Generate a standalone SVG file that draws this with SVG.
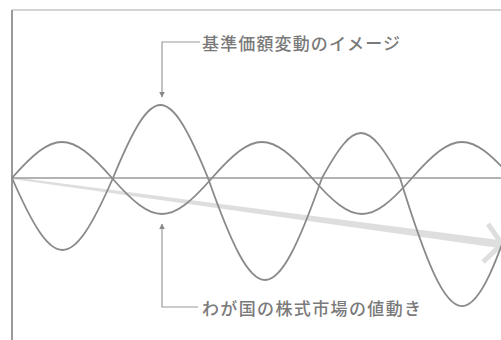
<svg xmlns="http://www.w3.org/2000/svg" width="501" height="340" viewBox="0 0 501 340">
<style>
.wave{fill:none;stroke:#8a8a8a;stroke-width:1.8;stroke-linecap:round}
.lead{fill:none;stroke:#9a9a9a;stroke-width:1.2}
.lbl{font-family:"Noto Sans CJK JP","Noto Sans CJK SC",sans-serif;font-size:17px;fill:#7a7a7a;font-weight:500}
</style>
<defs>
<marker id="ah" viewBox="0 0 10 10" refX="9" refY="5" markerWidth="6" markerHeight="6" orient="auto" markerUnits="userSpaceOnUse">
<path d="M0,0 L10,5 L0,10 z" fill="#8a8a8a"/>
</marker>
</defs>
<rect width="501" height="340" fill="#ffffff"/>
<g id="frame">
<line x1="12" y1="10" x2="501" y2="10" stroke="#c4c4c4" stroke-width="1.5"/>
<line x1="12" y1="10" x2="12" y2="340" stroke="#9a9a9a" stroke-width="2"/>
</g>
<g id="trend">
<polygon points="12,177 499,240 499,248 12,179" fill="#dedede"/>
<polyline points="488,224 502,244 483,262" fill="none" stroke="#dedede" stroke-width="5" stroke-linejoin="miter"/>
</g>
<g id="axis">
<line x1="12" y1="178" x2="501" y2="178" stroke="#9a9a9a" stroke-width="1.5"/>
</g>
<g id="market-wave">
<path class="wave" d="M12,178 C54,130 70,130 112,178 S170,226 212,178 S270,130 312,178 S370,226 412,178 S470,130 512,178"/>
</g>
<g id="nav-wave">
<path class="wave" d="M12,178 C54,274 71,274 113,178 C153,80.7 168,80.7 208,178 C256,314 274,314 322,178 C355,118 367,118 400,178 C452.6,348.7 471.4,348.7 524,178"/>
</g>
<g id="connectors">
<path class="lead" d="M200,42 H162 V97" marker-end="url(#ah)"/>
<path class="lead" d="M198,307 H162 V224" marker-end="url(#ah)"/>
</g>
<g id="label-nav">
<text class="lbl" x="202" y="50" textLength="198" lengthAdjust="spacing">基準価額変動のイメージ</text>
</g>
<g id="label-market">
<text class="lbl" x="202" y="315" textLength="219" lengthAdjust="spacing">わが国の株式市場の値動き</text>
</g>
</svg>
